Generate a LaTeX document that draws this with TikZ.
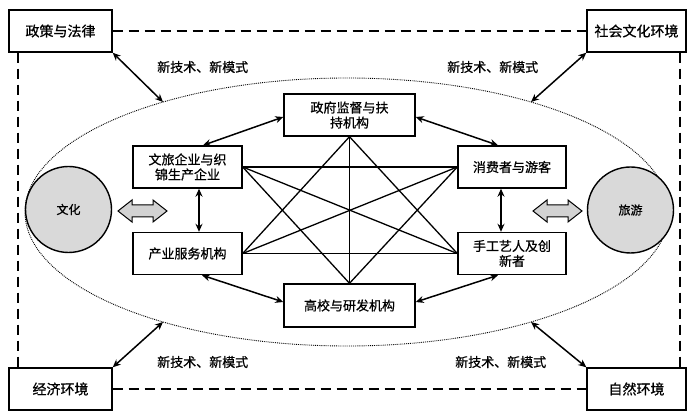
\documentclass[tikz,border=0pt]{standalone}
\usepackage{fontspec}
\newfontfamily\cjk[FakeBold=0.7]{Noto Sans CJK SC}
\usetikzlibrary{arrows.meta}
\begin{document}
\begin{tikzpicture}[x=1pt,y=-1pt,
  box/.style={draw,line width=1.4pt,fill=white,minimum height=42pt,align=center,inner sep=2pt,font=\cjk\fontsize{13}{15}\selectfont},
  outerbox/.style={box,font=\cjk\fontsize{14}{16}\selectfont},
  outerdash/.style={line width=1.7pt,dash pattern=on 10pt off 6pt},
  biarrow/.style={line width=1.5pt,{Stealth[length=8pt,width=7pt]}-{Stealth[length=8pt,width=7pt]}},
  link/.style={line width=1.3pt},
  circ/.style={circle,draw,line width=1.4pt,fill=gray!30,minimum size=86pt,inner sep=0pt,font=\cjk\fontsize{12}{14}\selectfont},
  lab/.style={anchor=west,inner sep=0pt,font=\cjk\fontsize{13}{15}\selectfont},
  hollow/.style={draw=black,line width=1pt,fill=gray!35}
]
\useasboundingbox (0,0) rectangle (687,411);
\fill[white] (0,0) rectangle (687,411);

% outer boxes
\node[outerbox,minimum width=103pt] (zc) at (60.5,31) {政策与法律};
\node[outerbox,minimum width=99pt] (sh) at (636.5,31) {社会文化环境};
\node[outerbox,minimum width=103pt] (jj) at (60.5,389) {经济环境};
\node[outerbox,minimum width=99pt] (zr) at (636.5,389) {自然环境};

% dashed frame
\draw[outerdash] (zc.east) -- (sh.west);
\draw[outerdash] (jj.east) -- (zr.west);
\draw[outerdash] ([xshift=10pt]zc.south west) -- ([xshift=10pt]jj.north west);
\draw[outerdash] ([xshift=-7pt]sh.south east) -- ([xshift=-7pt]zr.north east);

% ellipse
\draw[line width=0.9pt,densely dotted] (347,212) ellipse [x radius=322, y radius=134];
\coordinate (e1) at (163,102);
\coordinate (e2) at (531,102);
\coordinate (e3) at (163,322);
\coordinate (e4) at (531,322);

% outer arrows
\draw[biarrow] (zc.south east) -- (e1);
\draw[biarrow] (sh.south west) -- (e2);
\draw[biarrow] (jj.north east) -- (e3);
\draw[biarrow] (zr.north west) -- (e4);

\node[lab] (t1) at (157,67) {新技术、新模式};
\node[lab] (t2) at (447,67) {新技术、新模式};
\node[lab] (t3) at (157,362) {新技术、新模式};
\node[lab] (t4) at (455,362) {新技术、新模式};

% circles
\node[circ] (wh) at (68.5,209.5) {文化};
\node[circ] (ly) at (630.5,210) {旅游};

% hollow double arrows
\draw[hollow] (118,211) -- (132,200) -- (132,205) -- (153,205) -- (153,200) -- (167,211) -- (153,222) -- (153,217) -- (132,217) -- (132,222) -- cycle;
\draw[hollow] (533,211) -- (547,200) -- (547,205) -- (568,205) -- (568,200) -- (582,211) -- (568,222) -- (568,217) -- (547,217) -- (547,222) -- cycle;

% inner boxes
\node[box,minimum width=131pt] (zf) at (349.5,115) {政府监督与扶\\持机构};
\node[box,minimum width=109pt] (wl) at (187.5,167) {文旅企业与织\\锦生产企业};
\node[box,minimum width=108pt] (xf) at (512,167) {消费者与游客};
\node[box,minimum width=109pt] (cy) at (187.5,253.5) {产业服务机构};
\node[box,minimum width=108pt] (sg) at (512,253.5) {手工艺人及创\\新者};
\node[box,minimum width=131pt,minimum height=43pt] (gx) at (349.5,305.5) {高校与研发机构};

% plain links
\draw[link] (wl.east) -- (xf.west);
\draw[link] (wl.east) -- (sg.west);
\draw[link] (wl.east) -- (gx.north);
\draw[link] (cy.east) -- (sg.west);
\draw[link] (cy.east) -- (xf.west);
\draw[link] (cy.east) -- (zf.south);
\draw[link] (zf.south) -- (gx.north);
\draw[link] (zf.south) -- (sg.west);
\draw[link] (gx.north) -- (xf.west);

% double arrows
\draw[biarrow] ([xshift=15.5pt]wl.north) -- ([yshift=-2pt]zf.west);
\draw[biarrow] ([yshift=-2pt]zf.east) -- ([xshift=-14pt]xf.north);
\draw[biarrow] ([xshift=11.5pt]wl.south) -- ([xshift=11.5pt]cy.north);
\draw[biarrow] ([xshift=-11pt]xf.south) -- ([xshift=-11pt]sg.north);
\draw[biarrow] ([xshift=14.5pt]cy.south) -- ([yshift=3.5pt]gx.west);
\draw[biarrow] ([yshift=3.5pt]gx.east) -- ([xshift=-14pt]sg.south);
\end{tikzpicture}
\end{document}
